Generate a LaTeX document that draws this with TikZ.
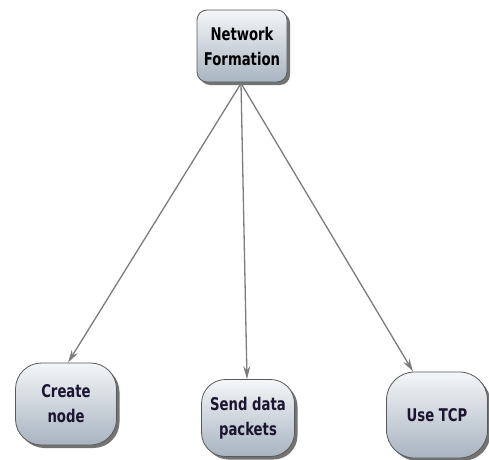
\documentclass[tikz,border=0pt]{standalone}
\usepackage{fontspec}
\setmainfont{DejaVu Sans Condensed}[FakeStretch=0.84]
\usetikzlibrary{arrows.meta,shadows,calc}
\definecolor{boxtop}{HTML}{F4F6F8}
\definecolor{boxbot}{HTML}{A8B4C0}
\definecolor{edgegray}{HTML}{7C7C7C}
\definecolor{inkdark}{HTML}{1C1430}
\tikzset{
  topic/.style={draw=black!65, line width=0.8pt, top color=boxtop, bottom color=boxbot,
    align=center, inner sep=0pt, font=\bfseries\fontsize{17.5}{25}\selectfont,
    drop shadow={shadow xshift=3pt, shadow yshift=-3pt, opacity=0.55, fill=black}},
  link/.style={draw=edgegray, line width=1.3pt, -{Stealth[length=13pt,width=7pt]}},
}
\begin{document}
\begin{tikzpicture}[x=1pt,y=1pt]
\useasboundingbox (0,0) rectangle (489,459);
\node[topic, rounded corners=10pt, minimum width=90pt, minimum height=72pt] (net) at (242,413) {Network\\Formation};
\node[topic, rounded corners=26pt, minimum width=101pt, minimum height=82pt, text=inkdark] (create) at (66,55) {Create\\node};
\node[topic, rounded corners=24pt, minimum width=93pt, minimum height=77pt, text=inkdark] (send) at (248,41) {Send data\\packets};
\node[topic, rounded corners=28pt, minimum width=101pt, minimum height=86pt, text=inkdark] (tcp) at (437,44) {Use TCP};
\coordinate (src) at ($(net.south)+(-1,-1)$);
\draw[link] (src) -- ($(create.north)+(2,0)$);
\draw[link] (src) -- ($(send.north)+(-1,0)$);
\draw[link] (src) -- ($(tcp.north)+(-24,0)$);
\end{tikzpicture}
\end{document}
